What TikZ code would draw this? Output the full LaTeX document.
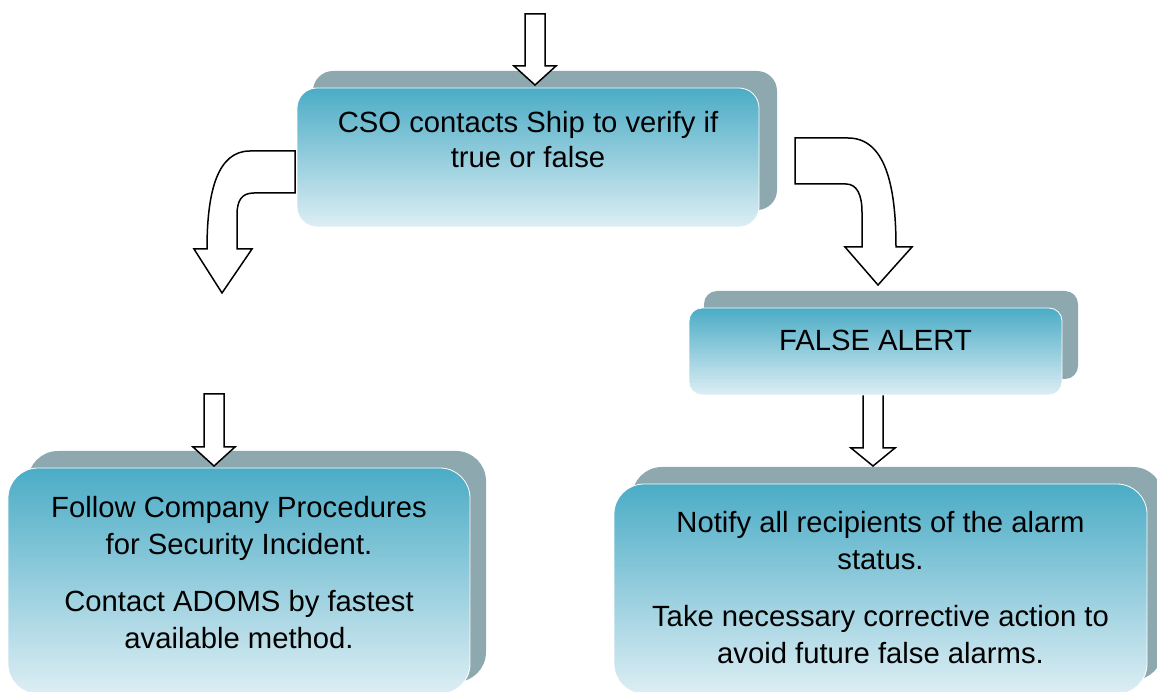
\documentclass[tikz,border=0pt]{standalone}
\usepackage{fontspec}
\setmainfont{Liberation Sans}
\definecolor{backc}{RGB}{142,168,176}
\definecolor{topc}{RGB}{75,172,198}
\definecolor{botc}{RGB}{221,238,244}
\begin{document}
\begin{tikzpicture}[x=1pt,y=-1pt,
  backbox/.style={rectangle, rounded corners=#1, fill=backc, draw=none, inner sep=0pt},
  frontbox/.style={rectangle, rounded corners=#1, top color=topc, bottom color=botc, draw=white, line width=0.8pt, inner sep=0pt},
  txt/.style={font=\fontsize{29.25pt}{37pt}\selectfont, align=center, inner sep=0pt, anchor=north, text=black},
  barrow/.style={draw=black, fill=white, line width=1.5pt, line join=miter}]
\useasboundingbox (0,0) rectangle (1157,692);
\clip (0,0) rectangle (1157,692);
% back boxes
\node[backbox=20pt, minimum width=464pt, minimum height=139pt] (csoback) at (545,140.5) {};
\node[backbox=13pt, minimum width=374pt, minimum height=88pt] (falseback) at (891,335) {};
\node[backbox=30pt, minimum width=458pt, minimum height=231pt] (procback) at (257,566.5) {};
\node[backbox=30pt, minimum width=531pt, minimum height=213pt] (notifyback) at (897.5,573.5) {};
% block arrows
\draw[barrow] (525,14) -- (545,14) -- (545,66) -- (556,66) -- (535,85) -- (514,66) -- (525,66) -- cycle;
\draw[barrow] (204,394) -- (224,394) -- (224,447) -- (235,447) -- (214,466) -- (193,447) -- (204,447) -- cycle;
\draw[barrow] (863,394) -- (883,394) -- (883,448) -- (895,448) -- (873,466) -- (851,448) -- (863,448) -- cycle;
\draw[barrow] (295,151) -- (250,151) .. controls (218,151) and (207,190) .. (207,249) -- (194,249) -- (222,293) -- (252,249) -- (237,249) -- (237,215) .. controls (237,200) and (242,193) .. (254,193) -- (295,193) -- cycle;
\draw[barrow] (795,138) -- (848,138) .. controls (885,138) and (896,185) .. (896,247) -- (912,247) -- (878,285) -- (845,247) -- (862,247) -- (862,212) .. controls (862,195) and (857,184) .. (846,184) -- (795,184) -- cycle;
% front boxes
\node[frontbox=20pt, minimum width=462pt, minimum height=139pt] (cso) at (528,157.5) {};
\node[frontbox=13pt, minimum width=373pt, minimum height=87pt] (false) at (875.5,351.5) {};
\node[frontbox=30pt, minimum width=462pt, minimum height=226pt] (proc) at (239,581) {};
\node[frontbox=30pt, minimum width=533pt, minimum height=210pt] (notify) at (880.5,589) {};
% texts
\node[txt, font=\fontsize{29.25pt}{35pt}\selectfont] (csotext) at (528,111.5) {CSO contacts Ship to verify if\\true or false};
\node[txt] (falsetext) at (875.5,330) {FALSE ALERT};
\node[txt] (proctext) at (239,496.5) {Follow Company Procedures\\for Security Incident.\\[20pt]Contact ADOMS by fastest\\available method.};
\node[txt] (notifytext) at (880.5,511.5) {Notify all recipients of the alarm\\status.\\[20pt]Take necessary corrective action to\\avoid future false alarms.};
\end{tikzpicture}
\end{document}
